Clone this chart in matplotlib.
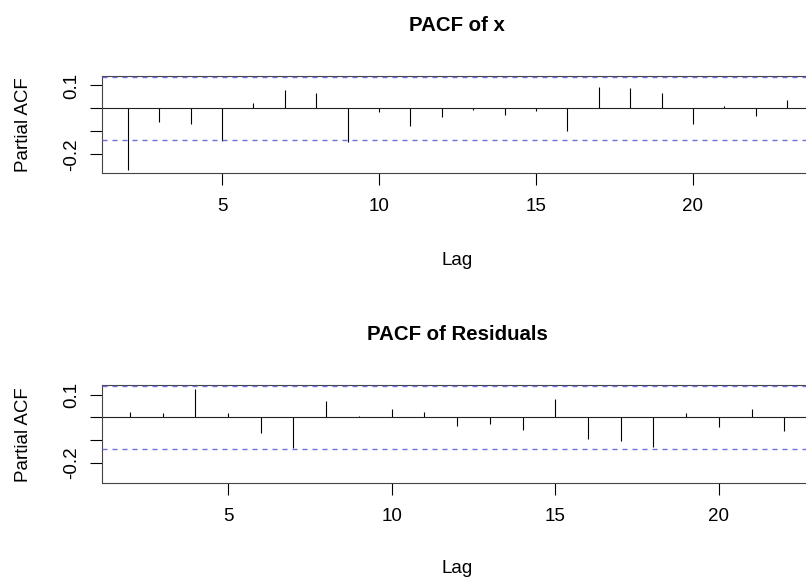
import numpy as np
import matplotlib.pyplot as plt

plt.rcParams['font.family'] = ['Liberation Sans', 'DejaVu Sans']

# PACF of x, lags 2..23
lags_x = np.arange(2, 24)
pacf_x = [-0.268, -0.058, -0.068, -0.142, 0.025, 0.080, 0.065, -0.145, -0.014, -0.075,
          -0.039, -0.005, -0.029, -0.010, -0.097, 0.094, 0.087, 0.065, -0.068, 0.010,
          -0.033, 0.036]
ci_x = 0.139

# PACF of residuals, lags 2..22
lags_r = np.arange(2, 23)
pacf_r = [0.022, 0.018, 0.124, 0.018, -0.071, -0.134, 0.074, 0.006, 0.035, 0.022,
          -0.038, -0.029, -0.056, 0.081, -0.097, -0.103, -0.129, 0.018, -0.044, 0.037,
          -0.060]
ci_r = 0.141

W, H = 806, 581
fig = plt.figure(figsize=(W / 100, H / 100), dpi=100)


def px(x0, y0, x1, y1):
    return [x0 / W, 1 - y1 / H, (x1 - x0) / W, (y1 - y0) / H]


def pacf_panel(rect, lags, vals, ci, xlim, ylim, title, title_y, lag_y):
    ax = fig.add_axes(rect)
    ax.vlines(lags, 0, vals, color='black', lw=0.8)
    ax.axhline(0, color='#222222', lw=0.8)
    for c in (ci, -ci):
        ax.axhline(c, color='#6f6fe0', lw=1.0, dashes=(3.6, 3.6), zorder=3)
    ax.set_xlim(*xlim)
    ax.set_ylim(*ylim)
    ax.set_xticks([5, 10, 15, 20])
    ax.set_yticks([-0.2, -0.1, 0.0, 0.1])
    ax.set_yticklabels(['-0.2', '', '', '0.1'], rotation=90, va='center')
    ax.tick_params(direction='out', length=8.6, width=0.8, labelsize=13.5, pad=7)
    ax.tick_params(axis='x', pad=9)
    for s in ax.spines.values():
        s.set_linewidth(0.8)
        s.set_color('#444444')
    fig.text(457 / W, 1 - title_y / H, title, ha='center', va='baseline',
             fontsize=14.7, fontweight='bold')
    fig.text(457 / W, 1 - lag_y / H, 'Lag', ha='center', va='baseline', fontsize=13.5)
    yc = rect[1] + rect[3] / 2
    fig.text(24 / W, yc, 'Partial ACF', rotation=90, ha='center', va='center', fontsize=13.5)
    return ax


pacf_panel(px(101.5, 75.7, 813.5, 173.3), lags_x, pacf_x, ci_x,
           (1.16, 23.84), (-0.283, 0.1425), 'PACF of x', 31, 265)
pacf_panel(px(101.5, 385, 813.5, 483.3), lags_r, pacf_r, ci_r,
           (1.135, 22.89), (-0.292, 0.1435), 'PACF of Residuals', 340, 573)

fig.savefig('out.png', dpi=100)
